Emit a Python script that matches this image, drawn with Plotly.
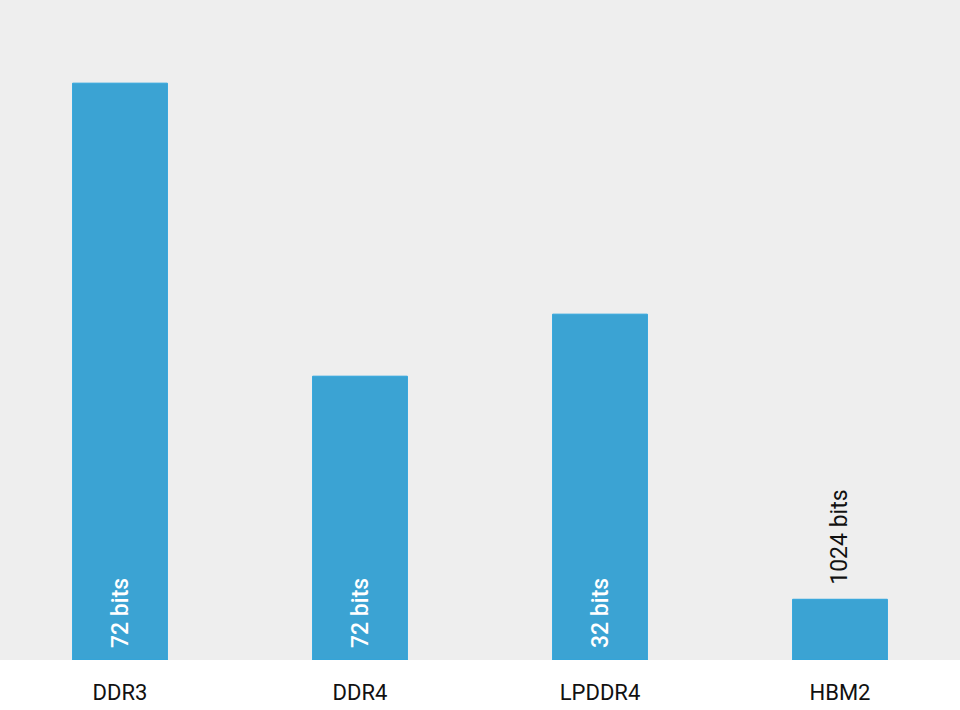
import plotly.graph_objects as go

categories = ["DDR3", "DDR4", "LPDDR4", "HBM2"]
values = [87.4, 43.0, 52.4, 9.2]
bus_width_labels = ["72 bits", "72 bits", "32 bits", "1024 bits"]
label_inside = [True, True, True, False]

fig = go.Figure(go.Bar(
    x=categories,
    y=values,
    marker=dict(color="#3ba3d3", line=dict(color="#2ea4dc", width=1)),
    width=0.395,
    hoverinfo="x+y",
))

annotations = []
for cat, val, lab, inside in zip(categories, values, bus_width_labels, label_inside):
    if inside:
        annotations.append(dict(
            x=cat, y=0, xref="x", yref="y", text=lab, showarrow=False,
            textangle=-90, xanchor="center", yanchor="bottom", yshift=10,
            font=dict(family="Roboto", size=23, color="white", weight=500),
        ))
    else:
        annotations.append(dict(
            x=cat, y=val, xref="x", yref="y", text=lab, showarrow=False,
            textangle=-90, xanchor="center", yanchor="bottom", yshift=12,
            font=dict(family="Roboto", size=23, color="#111111"),
        ))

fig.update_layout(
    width=960, height=710,
    margin=dict(l=0, r=0, t=0, b=50),
    paper_bgcolor="white",
    plot_bgcolor="#eeeeee",
    showlegend=False,
    font=dict(family="Roboto", size=22, color="#111111"),
    annotations=annotations,
    xaxis=dict(showgrid=False, zeroline=False, showline=False, ticks="",
               ticklabelstandoff=17,
               tickfont=dict(size=22, color="#111111"), fixedrange=True),
    yaxis=dict(range=[0, 100], visible=False, showgrid=False, fixedrange=True),
)

fig.write_html("out.html", post_script="document.body.style.margin='0';",
               config={"displayModeBar": False})
